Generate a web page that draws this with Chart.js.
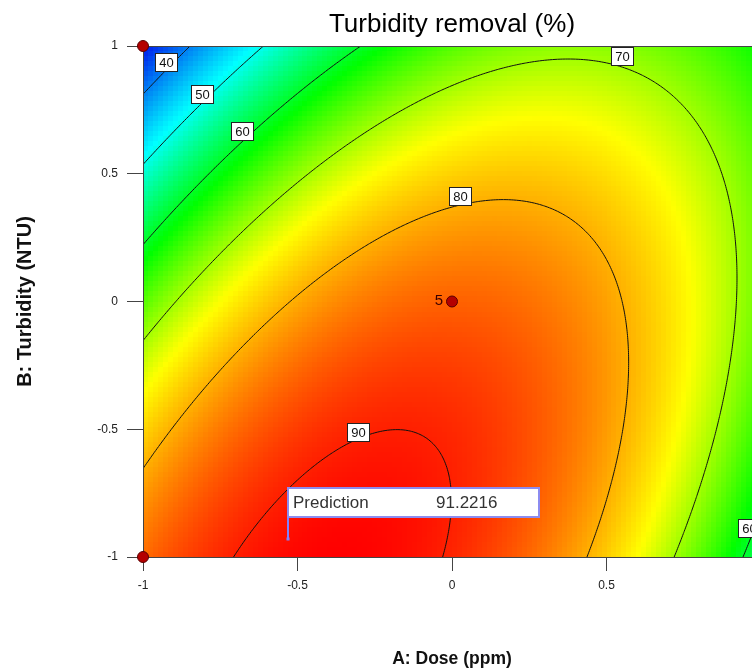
<!DOCTYPE html>
<html>
<head>
<meta charset="utf-8">
<title>Turbidity removal (%)</title>
<script src="https://cdn.jsdelivr.net/npm/chart.js@4.4.0/dist/chart.umd.min.js"></script>
<style>
  html, body { margin: 0; padding: 0; background: #fff; overflow: hidden; }
  #wrap { width: 780px; height: 670px; }
</style>
</head>
<body>
<div id="wrap"><canvas id="contour" width="780" height="670"></canvas></div>
<script>
'use strict'

// tick values (coded factor levels)
const doseTicks = [-1, -0.5, 0, 0.5, 1];
const turbidityTicks = [-1, -0.5, 0, 0.5, 1];

// quadratic model in coded units: Intercept, A, B, AB, A^2, B^2
const modelTerms = ['Intercept', 'A', 'B', 'AB', 'A^2', 'B^2'];
const modelCoefs = [85.4, 0.5, -11.8, 14.3, -18.72, -7.6];

// contour levels, and the spots where each label is placed
const contourLevels = [40, 50, 60, 70, 80, 90];
const labelLevels = [40, 50, 60, 70, 80, 90, 60];
const labelDose = [-0.925, -0.808, -0.679, 0.549, 0.026, -0.305, 0.962];
const labelTurb = [0.939, 0.814, 0.669, 0.959, 0.411, -0.509, -0.885];

// design points (runs at each)
const designDose = [-1, -1, 0, 1, 1];
const designTurb = [1, -1, 0, 1, -1];
const designRuns = [1, 1, 5, 1, 1];

// flagged prediction
const predDose = -0.53;
const predTurb = -0.93;
const predValue = 91.2216;

const FONT = "'Liberation Sans', Arial, sans-serif";
Chart.defaults.font.family = FONT;

const cellsX = 124, cellsY = 102;   // colour cells
const nodes = 241;                  // grid for contour lines

function response(a, b) {
  const [c0, cA, cB, cAB, cAA, cBB] = modelCoefs;
  return c0 + cA * a + cB * b + cAB * a * b + cAA * a * a + cBB * b * b;
}

// surface grid
const grid = [];
let zMin = Infinity, zMax = -Infinity;
for (let j = 0; j < nodes; j++) {
  const row = [];
  const b = -1 + 2 * j / (nodes - 1);
  for (let i = 0; i < nodes; i++) {
    const z = response(-1 + 2 * i / (nodes - 1), b);
    row.push(z);
    if (z < zMin) zMin = z;
    if (z > zMax) zMax = z;
  }
  grid.push(row);
}

// blue -> cyan -> green -> yellow -> red
const rampStops = [0, 0.277, 0.495, 0.705, 1];
const rampColors = [[0, 20, 235], [0, 255, 255], [0, 255, 0], [255, 255, 0], [255, 0, 0]];
function rampColor(z) {
  let t = (z - zMin) / (zMax - zMin);
  t = Math.max(0, Math.min(1, t));
  let k = 0;
  while (k < rampStops.length - 2 && t > rampStops[k + 1]) k++;
  const f = (t - rampStops[k]) / (rampStops[k + 1] - rampStops[k]);
  const c0 = rampColors[k], c1 = rampColors[k + 1];
  const c = c0.map((v, n) => Math.round(v + (c1[n] - v) * f));
  return `rgb(${c[0]},${c[1]},${c[2]})`;
}

// cell colours
const cells = [];
for (let j = 0; j < cellsY; j++) {
  for (let i = 0; i < cellsX; i++) {
    const a0 = -1 + 2 * i / cellsX, a1 = -1 + 2 * (i + 1) / cellsX;
    const b0 = -1 + 2 * j / cellsY, b1 = -1 + 2 * (j + 1) / cellsY;
    cells.push({a0, a1, b0, b1, color: rampColor(response((a0 + a1) / 2, (b0 + b1) / 2))});
  }
}

// marching squares
function contourSegments(level) {
  const segs = [];
  const step = 2 / (nodes - 1);
  const cross = (za, zb) => (level - za) / (zb - za);
  for (let j = 0; j < nodes - 1; j++) {
    for (let i = 0; i < nodes - 1; i++) {
      const a = -1 + i * step, b = -1 + j * step;
      const z00 = grid[j][i], z10 = grid[j][i + 1], z11 = grid[j + 1][i + 1], z01 = grid[j + 1][i];
      const pts = [];
      if ((z00 < level) !== (z10 < level)) pts.push([a + cross(z00, z10) * step, b]);
      if ((z10 < level) !== (z11 < level)) pts.push([a + step, b + cross(z10, z11) * step]);
      if ((z11 < level) !== (z01 < level)) pts.push([a + step - cross(z11, z01) * step, b + step]);
      if ((z01 < level) !== (z00 < level)) pts.push([a, b + step - cross(z01, z00) * step]);
      if (pts.length >= 2) segs.push([pts[0], pts[1]]);
      if (pts.length === 4) segs.push([pts[2], pts[3]]);
    }
  }
  return segs;
}
const contours = contourLevels.map(contourSegments);

const surfacePlugin = {
  id: 'surface',
  beforeDatasetsDraw(chart) {
    const {ctx, chartArea: area, scales: {x, y}} = chart;
    ctx.save();
    ctx.beginPath();
    ctx.rect(area.left, area.top, area.width, area.height);
    ctx.clip();

    cells.forEach(c => {
      const px0 = Math.round(x.getPixelForValue(c.a0)), px1 = Math.round(x.getPixelForValue(c.a1));
      const py0 = Math.round(y.getPixelForValue(c.b1)), py1 = Math.round(y.getPixelForValue(c.b0));
      ctx.fillStyle = c.color;
      ctx.fillRect(px0, py0, px1 - px0, py1 - py0);
    });

    ctx.strokeStyle = '#111';
    ctx.lineWidth = 1;
    contours.forEach(segs => {
      ctx.beginPath();
      segs.forEach(([p, q]) => {
        ctx.moveTo(x.getPixelForValue(p[0]), y.getPixelForValue(p[1]));
        ctx.lineTo(x.getPixelForValue(q[0]), y.getPixelForValue(q[1]));
      });
      ctx.stroke();
    });

    // contour labels
    ctx.font = `13px ${FONT}`;
    ctx.textAlign = 'center';
    ctx.textBaseline = 'middle';
    labelLevels.forEach((lv, k) => {
      const cx = x.getPixelForValue(labelDose[k]), cy = y.getPixelForValue(labelTurb[k]);
      const w = 22, h = 18;
      const bx = Math.round(cx - w / 2) + 0.5, by = Math.round(cy - h / 2) + 0.5;
      ctx.fillStyle = '#fff';
      ctx.fillRect(bx, by, w, h);
      ctx.strokeStyle = '#222';
      ctx.strokeRect(bx, by, w, h);
      ctx.fillStyle = '#111';
      ctx.fillText(String(lv), bx + w / 2, by + h / 2 + 1);
    });
    ctx.restore();

    // plot frame
    ctx.save();
    ctx.strokeStyle = '#444';
    ctx.lineWidth = 1;
    ctx.beginPath();
    ctx.moveTo(area.left, area.top + 0.5);
    ctx.lineTo(area.right, area.top + 0.5);
    ctx.moveTo(area.left + 0.5, area.top);
    ctx.lineTo(area.left + 0.5, area.bottom);
    ctx.moveTo(area.left, area.bottom + 0.5);
    ctx.lineTo(area.right, area.bottom + 0.5);
    ctx.stroke();
    ctx.restore();
  },
  afterDatasetsDraw(chart) {
    const {ctx, scales: {x, y}} = chart;
    ctx.save();

    // number of runs at a design point
    ctx.font = `15px ${FONT}`;
    ctx.fillStyle = '#3a0000';
    ctx.textAlign = 'right';
    ctx.textBaseline = 'middle';
    designRuns.forEach((n, k) => {
      if (n > 1) {
        ctx.fillText(String(n), x.getPixelForValue(designDose[k]) - 9, y.getPixelForValue(designTurb[k]) - 1);
      }
    });

    // prediction flag
    const px = Math.round(x.getPixelForValue(predDose)), py = Math.round(y.getPixelForValue(predTurb));
    ctx.strokeStyle = '#8080ff';
    ctx.lineWidth = 2;
    ctx.beginPath();
    ctx.moveTo(px, py);
    ctx.lineTo(px, py - 50);
    ctx.stroke();
    ctx.fillStyle = '#8080ff';
    ctx.fillRect(px - 1.5, py - 1.5, 3, 3);
    ctx.fillStyle = '#fff';
    ctx.fillRect(px, py - 51, 251, 29);
    ctx.strokeStyle = '#8c8cf0';
    ctx.strokeRect(px, py - 51, 251, 29);
    ctx.fillStyle = '#333';
    ctx.font = `17px ${FONT}`;
    ctx.textAlign = 'left';
    ctx.fillText('Prediction', px + 5, py - 36);
    ctx.fillText(predValue.toFixed(4), px + 148, py - 36);
    ctx.restore();
  }
};

new Chart(document.getElementById('contour'), {
  type: 'scatter',
  data: {
    datasets: [{
      label: 'Design points',
      data: designDose.map((a, k) => ({x: a, y: designTurb[k]})),
      pointRadius: 5.5,
      pointBackgroundColor: '#b40000',
      pointBorderColor: '#5a0000',
      pointBorderWidth: 1,
      clip: false
    }]
  },
  options: {
    responsive: false,
    animation: false,
    layout: { padding: { left: 0, right: 19, top: 0, bottom: 0 } },
    plugins: {
      legend: { display: false },
      tooltip: { enabled: false },
      title: {
        display: true,
        text: 'Turbidity removal (%)',
        fullSize: false,
        color: '#000',
        font: { size: 26, weight: 'normal' },
        padding: { top: 9, bottom: 5.8 }
      }
    },
    scales: {
      x: {
        type: 'linear',
        min: -1,
        max: 1,
        afterBuildTicks: s => { s.ticks = doseTicks.map(v => ({value: v})); },
        afterFit: s => { s.height = 113; },
        grid: { drawOnChartArea: false, drawTicks: true, tickLength: 14, color: '#444' },
        border: { display: false },
        ticks: { color: '#222', font: { size: 12 }, padding: 7, maxRotation: 0, callback: v => String(v) },
        title: { display: true, text: 'A: Dose (ppm)', color: '#111', font: { size: 17.5, weight: 'bold' }, padding: { top: 5.5, bottom: 0 } }
      },
      y: {
        type: 'linear',
        min: -1,
        max: 1,
        afterBuildTicks: s => { s.ticks = turbidityTicks.map(v => ({value: v})); },
        afterFit: s => { s.width = 143; },
        grid: { drawOnChartArea: false, drawTicks: true, tickLength: 16, color: '#444' },
        border: { display: false },
        ticks: { color: '#222', font: { size: 12 }, padding: 9, callback: v => String(v) },
        title: { display: true, text: 'B: Turbidity (NTU)', color: '#111', font: { size: 20, weight: 'bold' }, padding: { top: 13.5, bottom: 0 } }
      }
    }
  },
  plugins: [surfacePlugin]
});
</script>
</body>
</html>
